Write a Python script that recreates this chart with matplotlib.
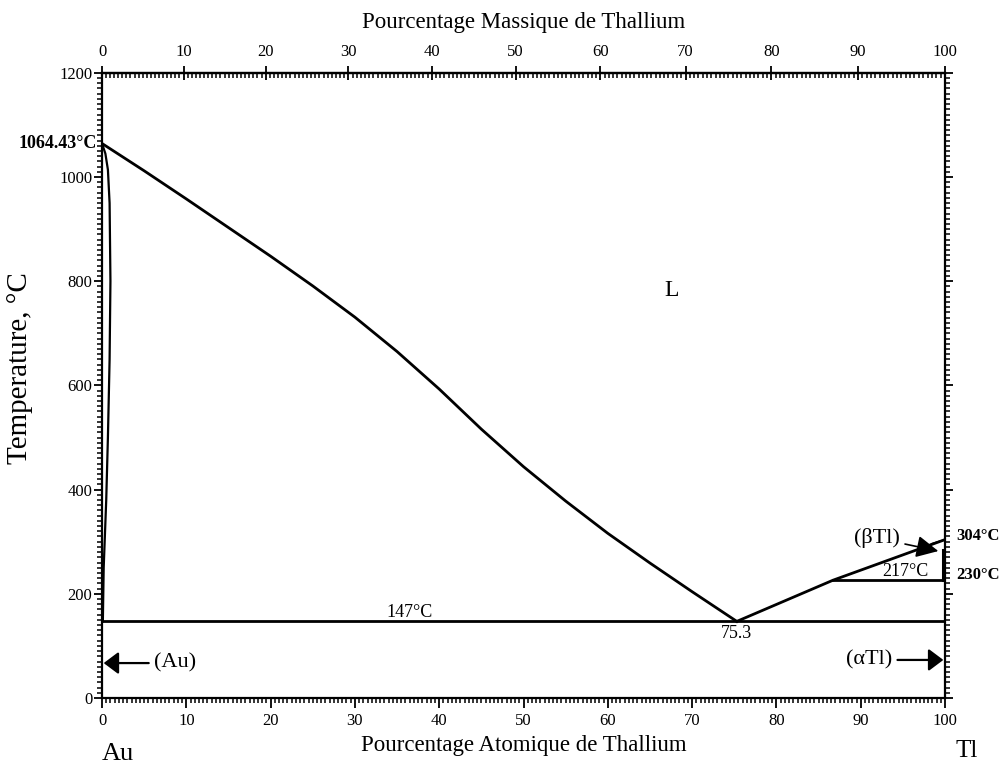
import numpy as np
import matplotlib
matplotlib.use("Agg")
import matplotlib.pyplot as plt
from matplotlib.ticker import MultipleLocator, FixedLocator

# atomic masses for the at% <-> wt% conversion
M_AU = 196.97
M_TL = 204.38

# liquidus, Au side (at% Tl, degC)
liq_au_x = [0, 5, 10, 15, 20, 25, 30, 35, 40, 45, 50, 55, 60, 65, 70, 75.3]
liq_au_t = [1064.43, 1012, 958, 903, 848, 791, 731, 665, 593, 516, 444, 378, 316, 259, 204, 147]

# solidus / solvus of (Au), close to the left axis
sol_au_x = [0, 0.4, 0.7, 0.9, 1.0, 0.9, 0.7, 0.5, 0.2, 0.1]
sol_au_t = [1064.43, 1045, 1014, 950, 800, 650, 500, 380, 250, 147]

# liquidus, Tl side
liq_tl_x = [75.3, 86.7, 100]
liq_tl_t = [147, 226, 304]

# small (betaTl) field next to pure Tl
sol_tl_x = [100, 98.4]
sol_tl_t = [304, 296]
solvus_tl_x = [99.8, 99.8]
solvus_tl_t = [284, 226]

eutectic_t = 147
eutectic_x = 75.3
tl_line_t = 226
tl_line_x0 = 86.7

wt_ticks = list(range(0, 101, 10))
wt_minor = list(np.arange(0, 100.01, 0.5))

plt.rcParams['font.family'] = ['Liberation Serif', 'DejaVu Serif']


def at_to_wt(a):
    a = np.asarray(a, dtype=float)
    return 100 * a * M_TL / (a * M_TL + (100 - a) * M_AU)


def wt_to_at(w):
    w = np.asarray(w, dtype=float)
    return 100 * (w / M_TL) / (w / M_TL + (100 - w) / M_AU)


fig = plt.figure(figsize=(10.06, 7.67), dpi=100)
ax = fig.add_axes([0.1014, 0.0900, 0.838, 0.815])

lw = 2.0
ax.plot(liq_au_x, liq_au_t, 'k-', lw=lw)
ax.plot(sol_au_x, sol_au_t, 'k-', lw=1.6)
ax.plot(liq_tl_x, liq_tl_t, 'k-', lw=lw)
ax.plot(sol_tl_x, sol_tl_t, 'k-', lw=1.2)
ax.plot(solvus_tl_x, solvus_tl_t, 'k-', lw=2.2)
ax.plot([0, 100], [eutectic_t, eutectic_t], 'k-', lw=lw)
ax.plot([tl_line_x0, 100], [tl_line_t, tl_line_t], 'k-', lw=lw)

ax.set_xlim(0, 100)
ax.set_ylim(0, 1200)
for s in ax.spines.values():
    s.set_linewidth(1.6)

ax.xaxis.set_major_locator(MultipleLocator(10))
ax.xaxis.set_minor_locator(MultipleLocator(0.5))
ax.yaxis.set_major_locator(MultipleLocator(200))
ax.yaxis.set_minor_locator(MultipleLocator(10))
ax.yaxis.set_ticks_position('both')
ax.tick_params(axis='x', which='major', direction='out', length=7, width=1.3, labelsize=12, pad=4)
ax.tick_params(axis='x', which='minor', direction='out', length=3.5, width=1.1)
ax.tick_params(axis='y', which='major', direction='out', length=6, width=1.3, labelsize=12, pad=1)
ax.tick_params(axis='y', which='minor', direction='out', length=3.5, width=1.1)

# weight percent scale on top
sec = ax.secondary_xaxis('top', functions=(at_to_wt, wt_to_at))
sec.xaxis.set_major_locator(FixedLocator(wt_ticks))
sec.xaxis.set_minor_locator(FixedLocator(wt_minor))
sec.tick_params(which='major', direction='inout', length=10, width=1.3, labelsize=12, pad=4.5)
sec.tick_params(which='minor', direction='in', length=3.5, width=1.1)
sec.spines['top'].set_linewidth(1.6)
sec.set_xlabel('Pourcentage Massique de Thallium', fontsize=16.5, labelpad=11)

ax.set_xlabel('Pourcentage Atomique de Thallium', fontsize=16.5, labelpad=4)
ax.set_ylabel('Temperature, °C', fontsize=21)
ax.yaxis.set_label_coords(-0.082, 0.528)

# temperatures and compositions
ax.text(-0.6, 1064.43, '1064.43°C', ha='right', va='center', fontsize=13, fontweight='bold')
ax.text(101.3, 310, '304°C', ha='left', va='center', fontsize=12, fontweight='bold', clip_on=False)
ax.text(101.3, 236, '230°C', ha='left', va='center', fontsize=12, fontweight='bold', clip_on=False)
ax.text(95.3, tl_line_t + 1, '217°C', ha='center', va='bottom', fontsize=13)
ax.text(36.5, eutectic_t + 1, '147°C', ha='center', va='bottom', fontsize=13)
ax.text(eutectic_x, eutectic_t - 6, '75.3', ha='center', va='top', fontsize=13)
ax.text(67.6, 783, 'L', ha='center', va='center', fontsize=17)

# phase labels with arrows
arrow = dict(arrowstyle='-|>,head_length=0.6,head_width=0.45', mutation_scale=15,
             color='k', lw=1.6, shrinkA=2, shrinkB=0)
ax.annotate('(Au)', xy=(0.2, 67), xytext=(6.2, 67), ha='left', va='center',
            fontsize=16, arrowprops=arrow)
ax.annotate('(αTl)', xy=(99.8, 73), xytext=(93.7, 73), ha='right', va='center',
            fontsize=16, arrowprops=arrow)
ax.annotate('(βTl)', xy=(99.2, 282), xytext=(94.6, 307), ha='right', va='center',
            fontsize=16, arrowprops=dict(arrowstyle='-|>,head_length=0.9,head_width=0.45',
                                         mutation_scale=15, color='k', lw=1.2,
                                         shrinkA=2, shrinkB=0))

fig.text(118 / 1006, 1 - 754 / 767, 'Au', ha='center', va='center', fontsize=19)
fig.text(967 / 1006, 1 - 751 / 767, 'Tl', ha='center', va='center', fontsize=18)

fig.savefig('out.png', dpi=100)
